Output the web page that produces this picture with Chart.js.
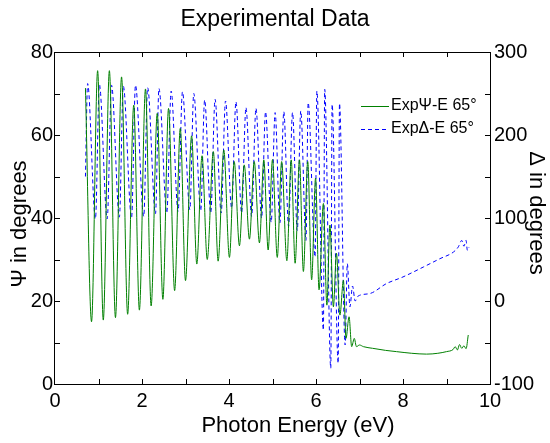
<!DOCTYPE html>
<html>
<head>
<meta charset="utf-8">
<script src="https://cdn.jsdelivr.net/npm/chart.js@4.4.1/dist/chart.umd.min.js"></script>
<style>
  body { margin: 0; background: #fff; }
</style>
</head>
<body>
<canvas id="chart" width="550" height="443"></canvas>
<script>
// Psi (green, left axis) - peaks and troughs
const energyPsi = [0.70, 0.84, 0.98, 1.11, 1.25, 1.39, 1.53, 1.67, 1.81, 1.94, 2.08, 2.21, 2.35, 2.48, 2.61, 2.75, 2.88, 3.00, 3.14, 3.26,
  3.38, 3.50, 3.64, 3.75, 3.88, 4.01, 4.12, 4.24, 4.35, 4.47, 4.58, 4.70, 4.80, 4.90, 5.00, 5.11, 5.21, 5.33, 5.43, 5.52,
  5.62, 5.71, 5.81, 5.90, 5.99, 6.07, 6.17, 6.25, 6.32, 6.40, 6.47, 6.55, 6.63, 6.69, 6.76, 6.82, 6.88, 6.93, 7.00, 7.09,
  7.30, 7.60, 7.85, 8.20, 8.54, 8.80, 9.00, 9.15, 9.20, 9.25, 9.30, 9.35, 9.40, 9.45, 9.50];
const psiDeg = [71.3, 15.0, 75.5, 15.4, 75.5, 16.0, 74.0, 16.8, 67.2, 17.8, 71.1, 18.8, 65.2, 20.4, 66.4, 22.5, 61.6, 24.9, 59.8, 28.9,
  55.0, 30.0, 56.0, 29.6, 56.4, 30.5, 53.6, 33.3, 52.8, 34.9, 53.6, 34.0, 54.0, 32.3, 54.1, 30.5, 53.6, 29.7, 54.0, 29.1,
  54.0, 27.1, 53.6, 25.1, 49.6, 22.7, 43.5, 19.0, 38.3, 18.6, 31.5, 16.6, 25.0, 11.0, 16.2, 9.0, 11.0, 9.0, 9.4, 9.0,
  8.6, 8.1, 7.8, 7.4, 7.2, 7.4, 7.8, 8.3, 9.0, 8.2, 9.5, 8.6, 9.2, 8.5, 11.8];

// Delta (blue dashed, right axis)
const energyDelta = [0.70, 0.75, 0.93, 1.02, 1.20, 1.30, 1.48, 1.57, 1.76, 1.85, 2.04, 2.13, 2.31, 2.39, 2.57, 2.67, 2.83, 2.93, 3.10, 3.19,
  3.35, 3.44, 3.58, 3.68, 3.82, 3.92, 4.06, 4.16, 4.29, 4.39, 4.52, 4.62, 4.75, 4.84, 4.97, 5.06, 5.17, 5.26, 5.37, 5.46,
  5.57, 5.65, 5.77, 5.82, 5.98, 6.02, 6.17, 6.20, 6.34, 6.37, 6.51, 6.54, 6.67, 6.72, 6.78, 6.84, 6.90, 6.97, 7.24, 7.62,
  8.00, 8.47, 8.85, 9.16, 9.27, 9.35, 9.40, 9.45, 9.48, 9.52];
const deltaDeg = [150, 262, 99, 261, 99, 260, 101, 259, 100, 260, 102, 257, 105, 256, 106, 253, 108, 252, 110, 250,
  109, 242, 106, 243, 106, 241, 112, 240, 106, 233, 102, 232, 100, 228, 95, 227, 94, 228, 90, 227,
  85, 229, 73, 239, 53, 253, -35, 255, -81, 237, -75, 238, -53, 45, -7, 18, 0, 6, 9, 21,
  29, 41, 51, 59, 65, 73, 66, 73, 61, 65];

const seriesNames = ["ExpΨ-E 65°", "ExpΔ-E 65°"];
const xTitle = "Photon Energy (eV)";
const yTitle = "Ψ in degrees";
const y1Title = "Δ in degrees";

const FONT = "'Liberation Sans', Arial, sans-serif";

function pts(xs, ys) {
  return xs.map((x, i) => ({ x: x, y: ys[i] }));
}

function rotText(ctx, text, x, y, angle) {
  ctx.save();
  ctx.translate(x, y);
  ctx.rotate(angle);
  ctx.textAlign = "center";
  ctx.textBaseline = "middle";
  ctx.fillText(text, 0, 0);
  ctx.restore();
}

// frame, inward ticks, axis titles and the legend inside the plot
const framePlugin = {
  id: "frame",
  afterDraw(chart) {
    const { ctx, chartArea: a, scales } = chart;
    ctx.save();
    ctx.strokeStyle = "#000";
    ctx.lineWidth = 1;
    ctx.setLineDash([]);
    ctx.strokeRect(a.left - 0.5, a.top + 0.5, a.right - a.left + 1, a.bottom - a.top);

    ctx.beginPath();
    for (let v = 1; v < 10; v++) {
      const px = Math.round(scales.x.getPixelForValue(v)) + 0.5;
      ctx.moveTo(px, a.bottom); ctx.lineTo(px, a.bottom - 5);
      ctx.moveTo(px, a.top); ctx.lineTo(px, a.top + 5);
    }
    for (let v = 10; v < 80; v += 10) {
      const py = Math.round(scales.y.getPixelForValue(v)) + 0.5;
      ctx.moveTo(a.left, py); ctx.lineTo(a.left + 5, py);
    }
    for (let v = -50; v < 300; v += 50) {
      const py = Math.round(scales.y1.getPixelForValue(v)) + 0.5;
      ctx.moveTo(a.right, py); ctx.lineTo(a.right - 5, py);
    }
    ctx.stroke();

    // axis titles
    ctx.fillStyle = "#000";
    ctx.font = "22px " + FONT;
    rotText(ctx, xTitle, 298, 426, 0);
    rotText(ctx, yTitle, 20, 224, -Math.PI / 2);
    rotText(ctx, y1Title, 536, 213, Math.PI / 2);

    // legend
    const ds = chart.data.datasets;
    ctx.font = "16px " + FONT;
    ctx.textAlign = "left";
    ctx.textBaseline = "middle";
    const rows = [106, 129];
    ds.forEach((d, i) => {
      ctx.beginPath();
      ctx.strokeStyle = d.borderColor;
      ctx.setLineDash(d.borderDash || []);
      ctx.moveTo(361, rows[i] + 0.5);
      ctx.lineTo(389, rows[i] + 0.5);
      ctx.stroke();
      ctx.setLineDash([]);
      ctx.fillText(d.label, 391, rows[i]);
    });
    ctx.restore();
  }
};

new Chart(document.getElementById("chart"), {
  type: "line",
  data: {
    datasets: [
      {
        label: seriesNames[0],
        data: pts(energyPsi, psiDeg),
        yAxisID: "y",
        borderColor: "#008000",
        borderWidth: 1,
        pointRadius: 0,
        cubicInterpolationMode: "monotone",
        fill: false
      },
      {
        label: seriesNames[1],
        data: pts(energyDelta, deltaDeg),
        yAxisID: "y1",
        borderColor: "#0000ff",
        borderWidth: 1,
        borderDash: [4, 3],
        pointRadius: 0,
        cubicInterpolationMode: "monotone",
        fill: false
      }
    ]
  },
  options: {
    responsive: false,
    animation: false,
    layout: { padding: 0 },
    plugins: {
      legend: { display: false },
      tooltip: { enabled: false },
      title: {
        display: true,
        text: "Experimental Data",
        color: "#000",
        font: { family: FONT, size: 23, weight: "normal", lineHeight: 1.2 },
        padding: { top: 6, bottom: 18.4 }
      }
    },
    scales: {
      x: {
        type: "linear",
        position: "bottom",
        min: 0, max: 10,
        grid: { display: false, drawTicks: false },
        border: { display: false },
        ticks: { stepSize: 2, padding: 5, color: "#000", font: { family: FONT, size: 20 } },
        afterFit(s) { s.height = 59; }
      },
      y: {
        type: "linear",
        position: "left",
        min: 0, max: 80,
        grid: { display: false, drawTicks: false },
        border: { display: false },
        ticks: { stepSize: 20, padding: 2, color: "#000", font: { family: FONT, size: 20 } },
        afterFit(s) { s.width = 55; }
      },
      y1: {
        type: "linear",
        position: "right",
        min: -100, max: 300,
        grid: { display: false, drawTicks: false },
        border: { display: false },
        ticks: { stepSize: 100, padding: 4, color: "#000", font: { family: FONT, size: 20 } },
        afterFit(s) { s.width = 60; }
      }
    }
  },
  plugins: [framePlugin]
});
</script>
</body>
</html>
